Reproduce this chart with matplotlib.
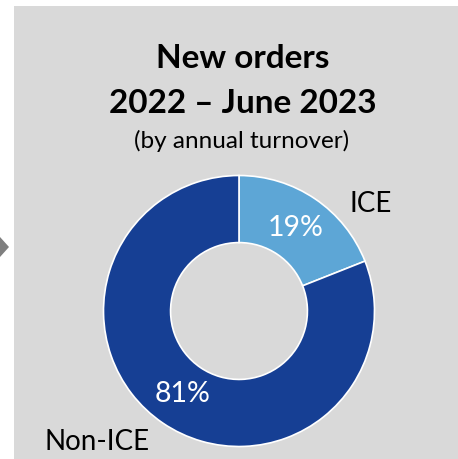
import matplotlib.pyplot as plt
from matplotlib.patches import Rectangle, Polygon

# Order intake split
segments = ["ICE", "Non-ICE"]
shares = [19, 81]
colors = ["#5da6d6", "#163f94"]

title_lines = ["New orders", "2022 \u2013 June 2023"]
subtitle = "(by annual turnover)"

plt.rcParams['font.family'] = ['Lato', 'DejaVu Sans']

W, H = 458, 459
fig = plt.figure(figsize=(W / 100, H / 100), dpi=100)
fig.patch.set_facecolor("white")

# grey panel and the little arrow on the left
fig.add_artist(Rectangle((14 / W, 0), 1 - 14 / W, 1 - 6 / H, transform=fig.transFigure,
                         facecolor="#d9d9d9", edgecolor="none", zorder=0))
fig.add_artist(Polygon([(0, 1 - 237 / H), (9 / W, 1 - 247 / H), (0, 1 - 257 / H)],
                       closed=True, transform=fig.transFigure,
                       facecolor="#7f7f7f", edgecolor="none", zorder=1))

fig.text(243 / W, 1 - 68 / H, title_lines[0], ha="center", va="baseline",
         fontsize=24, fontweight="bold")
fig.text(243 / W, 1 - 113 / H, title_lines[1], ha="center", va="baseline",
         fontsize=24, fontweight="bold")
fig.text(242 / W, 1 - 148 / H, subtitle, ha="center", va="baseline", fontsize=17.5)

# donut
cx, cy, r = 239, 459 - 311, 135.5
ax = fig.add_axes([(cx - r) / W, (cy - r) / H, 2 * r / W, 2 * r / H])
ax.set_facecolor("none")
wedges, _, pcts = ax.pie(shares, colors=colors, startangle=90, counterclock=False,
                         radius=1.0, autopct="%d%%", pctdistance=0.74,
                         wedgeprops=dict(width=0.495, edgecolor="white", linewidth=1.2),
                         textprops=dict(color="white", fontsize=20.5))
ax.set_xlim(-1, 1)
ax.set_ylim(-1, 1)
ax.set_aspect("equal")
ax.axis("off")

ax.text(0.974, 0.79, segments[0], ha="center", va="center", fontsize=20, clip_on=False)
ax.text(-1.048, -0.967, segments[1], ha="center", va="center", fontsize=20, clip_on=False)

fig.savefig("out.png", dpi=100)
